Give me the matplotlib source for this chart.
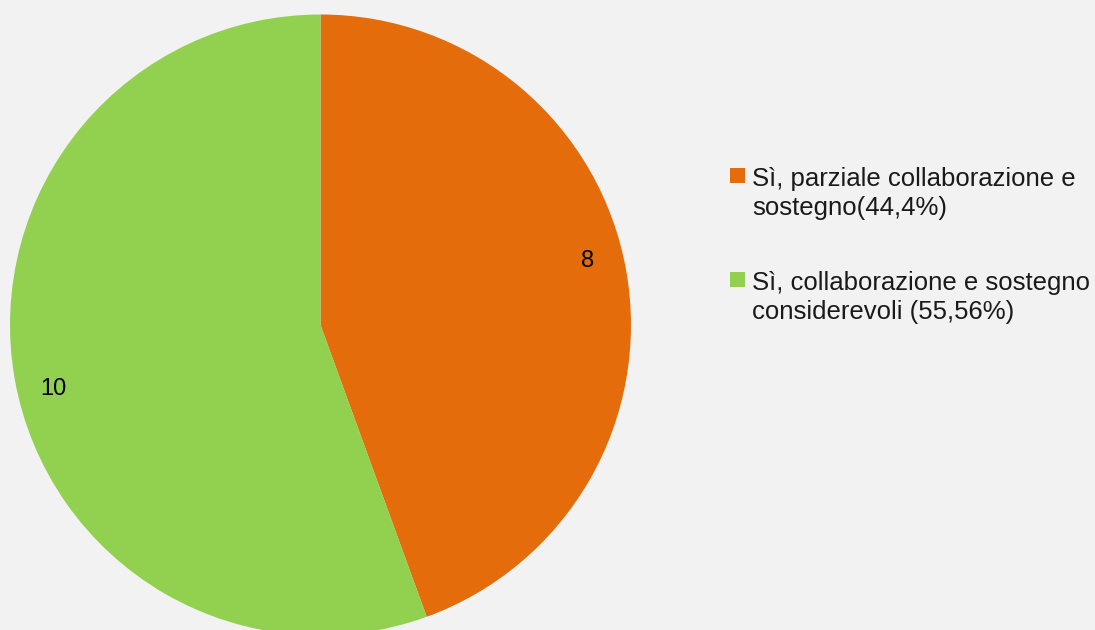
import matplotlib
matplotlib.use("Agg")
import matplotlib.pyplot as plt
from matplotlib.patches import Rectangle
import numpy as np

categories = ["Sì, parziale collaborazione e\nsostegno(44,4%)",
              "Sì, collaborazione e sostegno\nconsiderevoli (55,56%)"]
values = [8, 10]
colors = ["#E46C0A", "#92D050"]

plt.rcParams['font.family'] = ['Liberation Sans', 'DejaVu Sans']

W, H = 1095, 630
fig = plt.figure(figsize=(W / 100, H / 100), dpi=100, facecolor="#F2F2F2")
ax = fig.add_axes([0, 0, 1, 1])
ax.set_facecolor("#F2F2F2")

cx, cy, R = 320.5, H - 325, 310.5
wedges, texts = ax.pie(values, colors=colors, startangle=90, counterclock=False,
                       center=(cx, cy), radius=R,
                       labels=[str(v) for v in values], labeldistance=0.885,
                       textprops=dict(fontsize=17, color="#000000"),
                       wedgeprops=dict(linewidth=0))
# data labels placed slightly rotated from wedge mid-angle (like the reference)
for w, t in zip(wedges, texts):
    mid = np.deg2rad((w.theta1 + w.theta2) / 2 + 3.5)
    t.set_position((cx + 0.885 * R * np.cos(mid), cy + 0.885 * R * np.sin(mid)))
    t.set_ha('center')
    t.set_va('center')
ax.set_xlim(0, W)
ax.set_ylim(0, H)
ax.set_aspect('equal')
ax.axis('off')

# manual legend (pixel coordinates from top)
entry_tops = [168, 272]
line_gap = 28.5
for i, (lab, c) in enumerate(zip(categories, colors)):
    top = entry_tops[i]
    ax.add_patch(Rectangle((730, H - (top + 15)), 15, 15, facecolor=c, edgecolor='none'))
    for j, line in enumerate(lab.split("\n")):
        ax.text(752, H - (top + 18 + j * line_gap), line, fontsize=18.5,
                color="#1a1a1a", ha='left', va='baseline')

fig.savefig("out.png", dpi=100, facecolor=fig.get_facecolor())
